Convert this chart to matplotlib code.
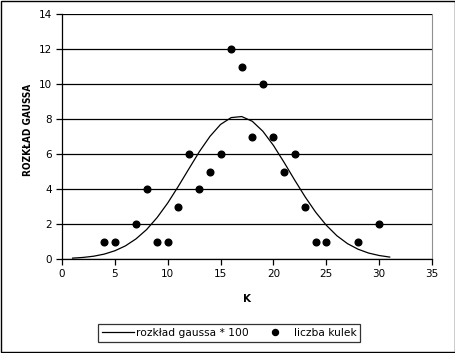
import matplotlib
matplotlib.use("Agg")
import matplotlib.pyplot as plt
from matplotlib.patches import Rectangle

# data
k_points = [4, 5, 7, 8, 9, 10, 11, 12, 13, 14, 15, 16, 17, 18, 19, 20, 21, 22, 23, 24, 25, 28, 30]
liczba_kulek = [1, 1, 2, 4, 1, 1, 3, 6, 4, 5, 6, 12, 11, 7, 10, 7, 5, 6, 3, 1, 1, 1, 2]

k_curve = list(range(1, 32))
gauss_100 = [0.05, 0.09, 0.16, 0.28, 0.47, 0.75, 1.15, 1.68, 2.37, 3.20, 4.15, 5.15, 6.14,
             7.01, 7.69, 8.08, 8.14, 7.87, 7.30, 6.49, 5.53, 4.52, 3.55, 2.67, 1.93, 1.33,
             0.88, 0.56, 0.34, 0.20, 0.11]

fig = plt.figure(figsize=(4.56, 3.53), dpi=100)
ax = fig.add_axes([62 / 456, 1 - 259 / 353, 370 / 456, 245 / 353])

ax.plot(k_curve, gauss_100, color="black", lw=0.9, label="rozkład gaussa * 100")
ax.plot(k_points, liczba_kulek, "o", color="black", ms=4.8, ls="none", label="liczba kulek")

ax.set_xlim(0, 35)
ax.set_ylim(0, 14)
ax.set_xticks(range(0, 36, 5))
ax.set_yticks(range(0, 15, 2))
ax.yaxis.grid(True, color="black", lw=0.9)
ax.set_axisbelow(True)

ax.spines["top"].set_visible(False)
ax.spines["right"].set_color("#909090")
for s in ("left", "bottom"):
    ax.spines[s].set_linewidth(0.9)
ax.tick_params(labelsize=7.5, length=4, width=0.9, direction="out", pad=3)

ax.set_xlabel("K", fontsize=7.5, fontweight="bold", labelpad=11)
# y label sits a bit above the axes centre in the original
fig.text(28 / 456, 1 - 130 / 353, "ROZKŁAD GAUSSA", rotation=90, ha="center", va="center",
         fontsize=7.2, fontweight="bold", fontstretch="condensed")

leg = fig.legend(loc="center", bbox_to_anchor=(229 / 456, 1 - 333 / 353), ncol=2,
                 fontsize=7.7, frameon=True, fancybox=False, edgecolor="black",
                 handlelength=3.0, handletextpad=0.25, columnspacing=0.9,
                 borderpad=0.35, borderaxespad=0, markerscale=0.9)
leg.get_frame().set_linewidth(0.9)

fig.patches.append(Rectangle((1 / 456, 1 / 353), 454 / 456, 351 / 353, transform=fig.transFigure,
                             fill=False, edgecolor="black", lw=1.0))

fig.savefig("out.png", dpi=100)
